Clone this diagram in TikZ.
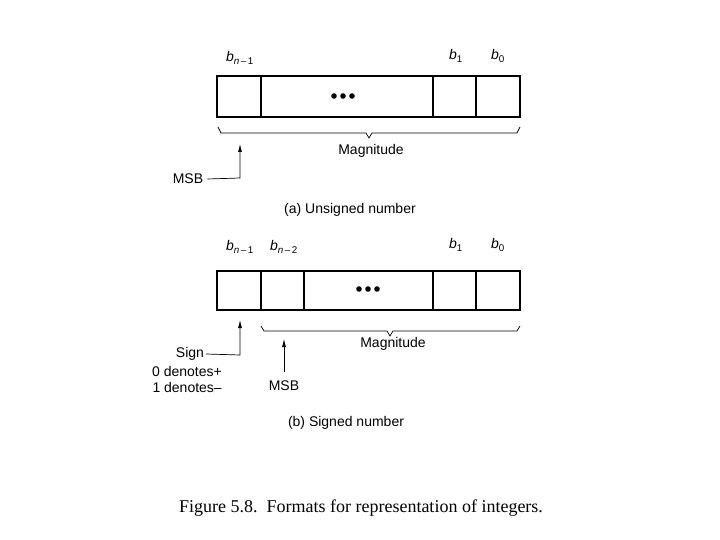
\documentclass[tikz,border=0pt]{standalone}
\usepackage{fontspec}
\setmainfont{Liberation Sans}
\newfontfamily\capfont{Liberation Serif}
\usetikzlibrary{arrows.meta}
\newcommand{\bsub}[2]{\textit{#1}\textsubscript{#2}}
\begin{document}
\begin{tikzpicture}[x=1pt,y=-1pt,
  cell/.style={draw,line width=2.2pt},
  lbl/.style={font=\fontsize{14}{16}\selectfont,inner sep=0pt},
  thin/.style={line width=0.7pt},
  arr/.style={thin,-{Latex[length=8pt,width=4pt]}}]
\useasboundingbox (0,0) rectangle (720,540);
% (a)
\draw[cell] (217,76) rectangle (520,117);
\foreach \x in {261,433,476} \draw[cell] (\x,76) -- (\x,117);
\foreach \x in {334,343,352} \fill (\x,96) circle (2.8);
\node[lbl] (a1) at (240,58) {\bsub{b}{\textit{n}\,\textendash\,1}};
\node[lbl] (a2) at (456,56) {\bsub{b}{1}};
\node[lbl] (a3) at (498,56) {\bsub{b}{0}};
\draw[thin] (218,127) -- (221,133) -- (366,133) -- (369,138) -- (372,133) -- (517,133) -- (520,127);
\node[lbl] (am) at (371,151) {Magnitude};
\node[lbl] (amsb) at (188,179) {MSB};
\coordinate (ac) at (240,178);
\coordinate (at) at (240,144);
\draw[arr] (amsb.east)+(4,0) -- (ac) -- (at);
\node[lbl] (acap) at (350,210) {(a) Unsigned number};
% (b)
\draw[cell] (217,271) rectangle (520,310);
\foreach \x in {261,304,433,476} \draw[cell] (\x,271) -- (\x,310);
\foreach \x in {359,368,377} \fill (\x,289) circle (2.8);
\node[lbl] (b1) at (240,247) {\bsub{b}{\textit{n}\,\textendash\,1}};
\node[lbl] (b2) at (284,247) {\bsub{b}{\textit{n}\,\textendash\,2}};
\node[lbl] (b3) at (456,245) {\bsub{b}{1}};
\node[lbl] (b4) at (498,245) {\bsub{b}{0}};
\draw[thin] (261,326) -- (264,331) -- (387,331) -- (390,336) -- (393,331) -- (517,331) -- (520,326);
\node[lbl] (bm) at (393,344) {Magnitude};
\node[lbl] (sign) at (190,354) {Sign};
\node[lbl,anchor=east] (d0) at (222,371) {0 denotes+};
\node[lbl,anchor=east] (d1) at (222,387) {1 denotes\textendash};
\coordinate (bc) at (240,355);
\coordinate (bt) at (240,320);
\draw[arr] (sign.east)+(2,0) -- (bc) -- (bt);
\node[lbl] (bmsb) at (284,386) {MSB};
\coordinate (bmt) at (284,339);
\draw[arr] (284,372) -- (bmt);
\node[lbl] (bcap) at (346,423) {(b) Signed number};
\node[inner sep=0pt,font=\capfont\fontsize{18}{20}\selectfont] (fig) at (361,508) {Figure 5.8.\ \ Formats for representation of integers.};
\end{tikzpicture}
\end{document}
